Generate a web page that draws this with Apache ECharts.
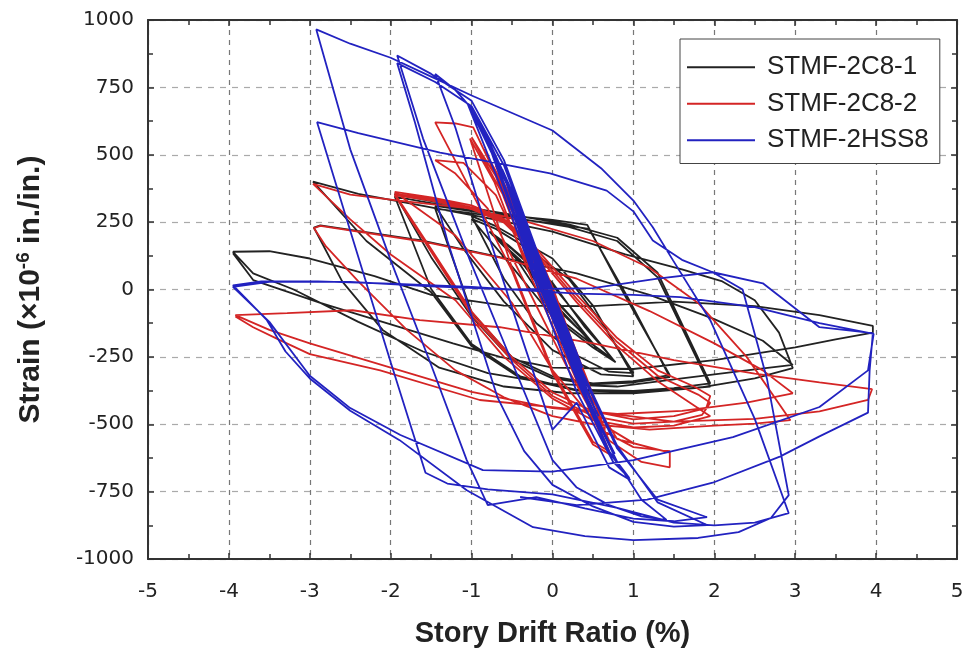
<!DOCTYPE html>
<html>
<head>
<meta charset="utf-8">
<script src="https://cdn.jsdelivr.net/npm/echarts@6/dist/echarts.min.js"></script>
<style>
  html, body { margin: 0; padding: 0; background: #fff; }
  #chart { width: 968px; height: 656px; }
</style>
</head>
<body>
<div id="chart"></div>
<script>
// Specimen names (legend order)
const seriesNames = ['STMF-2C8-1', 'STMF-2C8-2', 'STMF-2HSS8'];

// Axis tick values
const driftTicks = [-5, -4, -3, -2, -1, 0, 1, 2, 3, 4, 5];
const strainTicks = [-1000, -750, -500, -250, 0, 250, 500, 750, 1000];

// Hysteresis traces: [story drift ratio (%), strain (x10^-6 in./in.)]
const stmf2c81 = [
  [0,0],[-0.25,60],[-0.5,130],[-0.3,75],[0,-30],[0.25,-110],[0.5,-200],[0.3,-140],[0,-45],
  [-0.3,80],[-0.55,150],[-0.35,95],[0,-25],[0.3,-125],[0.55,-220],[0.35,-155],[0,-55],
  [-0.4,110],[-0.75,205],[-0.5,150],[0,15],[0.4,-130],[0.75,-260],[0.5,-205],[0,-90],
  [-0.45,115],[-0.78,215],[-0.55,165],[0,25],[0.4,-140],[0.78,-270],[0.5,-215],[0,-100],
  [-0.5,85],[-1.0,262],[-0.7,225],[-0.3,150],[0.2,40],[0.6,-120],[1.0,-310],[0.7,-305],[0.3,-245],[-0.2,-125],[-0.6,40],
  [-1.0,272],[-0.7,235],[0,115],[0.5,-60],[1.0,-322],[0.6,-315],[0,-225],
  [-0.6,-45],[-1.1,150],[-1.45,310],[-0.8,282],[0,258],[0.43,240],[0.9,-25],[1.45,-318],[1.0,-340],[0.5,-348],[0,-322],[-0.5,-252],[-1.0,-85],
  [-1.45,300],[-0.8,275],[0,245],[0.45,225],[0.95,-40],[1.45,-325],[1.0,-345],[0.5,-352],[0,-330],[-0.5,-262],[-1.0,-100],
  [-1.5,120],[-1.95,355],[-1.4,322],[-0.6,282],[0.2,242],[0.8,192],[1.3,62],[1.95,-348],[1.5,-366],[1.0,-376],[0.3,-372],[-0.4,-322],[-1.0,-202],[-1.5,2],
  [-1.95,345],[-1.4,315],[-0.6,272],[0.2,232],[0.8,180],[1.3,45],[1.95,-360],[1.5,-372],[1.0,-380],[0.3,-375],[-0.4,-328],[-1.0,-210],[-1.5,-10],
  [-2.3,180],[-2.96,400],[-2.4,355],[-1.6,310],[-0.8,265],[0,215],[0.9,130],[1.6,75],[2.1,30],[2.5,-40],[2.8,-160],[2.97,-292],
  [2.5,-330],[1.8,-365],[1.0,-385],[0.2,-385],[-0.6,-360],[-1.4,-290],[-2.1,-150],[-2.6,30],[-2.95,230],
  [-2.87,238],[-1.64,183],[-0.65,120],[0.3,60],[1.2,-20],[2.0,-110],[2.6,-190],[2.97,-280],
  [2.4,-300],[1.6,-330],[0.8,-360],[0,-350],[-0.8,-310],[-1.6,-230],[-2.4,-120],[-3.2,0],[-3.7,60],[-3.95,140],
  [-3.5,142],[-3.0,115],[-2.2,50],[-1.5,-20],[-0.6,-60],[0.5,-62],[1.5,-45],[2.5,-62],[3.3,-95],[3.96,-135],
  [3.96,-160],[3.5,-185],[3.0,-215],[2.0,-262],[1.0,-295],[0,-290],[-0.65,-250],[-1.23,-200],[-2.05,-125],[-2.87,-50],[-3.7,35],[-3.95,135]
];

const stmf2c82 = [
  [0,0],[-0.3,200],[-0.55,370],[-0.35,250],[0,10],[0.25,-200],[0.45,-350],[0.3,-260],[0,-60],
  [-0.35,220],[-0.7,460],[-0.5,330],[0,0],[0.3,-235],[0.55,-430],[0.35,-300],[0,-80],
  [-0.4,255],[-0.85,520],[-0.6,385],[0,-10],[0.35,-285],[0.65,-520],[0.45,-400],[0,-100],
  [-0.5,290],[-1.0,565],[-0.7,420],[-0.28,90],[0.2,-250],[0.7,-600],[0.5,-565],[0,-300],[-0.5,80],
  [-1.02,560],[-0.72,400],[-0.3,70],[0.2,-270],[0.7,-610],[0.5,-575],[0,-310],[-0.5,70],
  [-1.1,420],[-1.45,620],[-1.2,616],[-0.98,602],[-0.6,360],[-0.2,80],[0.3,-300],[0.7,-560],[1.1,-640],[1.45,-660],
  [1.45,-600],[1.0,-585],[0.6,-520],[0.2,-300],[-0.3,0],[-0.8,300],[-1.2,430],[-1.45,480],
  [-1.1,470],[-0.7,350],[-0.2,30],[0.3,-320],[0.8,-555],[1.45,-605],[1.0,-570],[0.5,-480],[0,-300],[-0.5,-50],
  [-1.2,200],[-1.95,362],[-1.5,342],[-1.0,312],[-0.6,262],[-0.2,152],[0.3,-20],[0.8,-180],[1.3,-300],[1.75,-360],[1.95,-395],
  [1.9,-440],[1.5,-470],[1.0,-482],[0.5,-452],[0,-382],[-0.5,-252],[-1.0,-82],[-1.5,150],
  [-1.95,355],[-1.5,336],[-1.0,305],[-0.6,255],[-0.2,140],[0.3,-35],[0.8,-195],[1.3,-320],[1.8,-390],[1.95,-420],
  [1.85,-465],[1.5,-490],[1.0,-498],[0.5,-470],[0,-395],[-0.5,-262],[-1.0,-95],[-1.5,140],
  [-1.95,350],[-1.5,330],[-1.0,298],[-0.6,248],[-0.2,130],[0.3,-48],[0.8,-210],[1.3,-340],[1.95,-470],
  [1.5,-505],[1.0,-512],[0.5,-485],[0,-405],[-0.6,-250],[-1.2,-40],
  [-2.0,130],[-2.5,260],[-2.96,392],[-2.5,352],[-1.9,330],[-1.0,300],[-0.3,250],[0.5,180],[1.2,80],[1.8,-50],[2.4,-250],[2.94,-485],
  [2.5,-498],[2.0,-505],[1.2,-520],[0.5,-500],[0,-470],[-0.6,-400],[-1.2,-300],[-1.8,-150],[-2.4,30],[-2.8,160],[-2.95,228],
  [-2.87,236],[-1.64,180],[-0.65,118],[0.3,40],[1.2,-80],[2.0,-200],[2.6,-300],[2.97,-385],
  [2.4,-420],[1.6,-450],[0.8,-462],[0,-440],[-1.0,-380],[-2.0,-290],[-3.0,-200],[-3.5,-150],[-3.92,-95],
  [-3.28,-88],[-2.47,-77],[-1.64,-114],[-0.65,-140],[0.5,-200],[1.5,-262],[2.5,-312],[3.3,-345],[3.95,-370],
  [3.9,-410],[3.3,-452],[2.5,-480],[1.5,-490],[0.34,-447],[-0.9,-410],[-2.13,-300],[-3.0,-240],[-3.37,-188],[-3.7,-140],[-3.92,-100]
];

const stmf2hss8 = [
  [0,0],[-0.2,150],[-0.4,300],[-0.25,180],[0,-20],[0.2,-170],[0.35,-280],[0.2,-160],[0,-10],
  [-0.25,190],[-0.42,310],[-0.3,210],[0,-30],[0.2,-185],[0.37,-290],[0.22,-175],[0,-20],
  [-0.3,220],[-0.6,430],[-0.45,320],[0,-40],[0.3,-290],[0.55,-460],[0.4,-350],[0,-60],
  [-0.3,200],[-0.62,445],[-0.45,330],[0,-50],[0.3,-300],[0.57,-470],[0.4,-360],[0,-70],
  [-0.4,290],[-0.8,560],[-0.6,430],[-0.2,110],[0.3,-320],[0.75,-600],[0.55,-490],[0,-80],
  [-0.4,280],[-0.82,570],[-0.62,440],[-0.2,100],[0.3,-330],[0.77,-610],[0.57,-500],[0,-90],
  [-0.5,350],[-1.0,660],[-0.8,560],[-0.24,90],[0.3,-330],[0.7,-600],[0.95,-700],[0.75,-640],[0.3,-380],[-0.2,20],
  [-0.6,350],[-1.05,690],[-0.85,590],[-0.24,71],[0.3,-335],[0.7,-605],[0.96,-707],[0.7,-660],[0.3,-420],
  [0,-520],[-0.4,-160],[-0.77,182],[-1.2,600],[-1.45,800],[-1.2,740],[-0.98,665],[-0.6,420],[-0.24,100],[0.3,-330],[0.8,-640],[1.1,-780],[1.41,-855],
  [1.1,-842],[0.7,-800],[0.3,-735],[0,-633],
  [-0.5,-270],[-1.02,108],[-1.6,560],[-1.92,868],[-1.5,800],[-1.0,700],[-0.6,480],[-0.2,150],[0.3,-260],[0.8,-580],[1.3,-790],[1.91,-874],
  [1.5,-880],[1.0,-862],[0.5,-805],[0,-725],[-0.35,-600],[-0.68,-400],[-1.3,182],[-1.7,620],[-1.92,840],
  [-1.45,770],[-1.0,680],[-0.6,460],[-0.2,140],[0.3,-270],[0.8,-590],[1.3,-780],[1.91,-845],
  [1.5,-860],[1.0,-850],[0.4,-812],[-0.2,-770],[-0.8,-800],
  [-1.06,-633],[-1.5,-280],[-2.0,108],[-2.5,520],[-2.92,965],[-2.5,912],[-2.0,860],[-1.5,790],[-1.0,720],[-0.5,655],[0,590],[0.6,450],[1.0,330],[1.24,231],[1.49,108],[1.95,-114],[2.5,-480],[2.92,-830],
  [2.5,-865],[2.0,-875],[1.5,-865],[0.8,-810],[0,-760],[-0.8,-742],[-1.3,-720],[-1.57,-680],[-2.0,-270],[-2.54,257],[-2.91,621],
  [-2.4,580],[-1.39,508],[-0.7,470],[-0.03,431],[0.67,367],[1.0,290],[1.24,182],[1.6,110],[1.98,64],[2.35,0],[2.65,-330],[2.92,-763],
  [2.7,-848],[2.3,-900],[1.8,-922],[1.0,-930],[0.4,-915],[-0.24,-882],[-1.06,-745],[-1.89,-559],[-2.5,-450],[-3.0,-330],[-3.3,-230],[-3.53,-114],[-3.8,-30],[-3.95,15],
  [-3.6,30],[-2.9,30],[-2.0,22],[-1.0,10],[0.3,-15],[1.0,-20],[1.58,-28],[2.5,-65],[3.3,-125],[3.97,-165],
  [3.9,-300],[3.3,-436],[2.23,-548],[1.0,-633],[0,-676],[-0.86,-670],[-1.88,-540],[-2.5,-440],[-3.0,-320],[-3.5,-120],[-3.95,10],
  [-3.5,28],[-2.5,28],[-1.5,12],[-0.5,0],[0.5,5],[1.3,40],[1.98,64],[2.6,23],[3.3,-140],[3.96,-162],
  [3.92,-300],[3.9,-457],[3.3,-545],[2.81,-620],[1.98,-717],[1.17,-780],[0.3,-800],[-0.4,-770]
];

const seriesData = [stmf2c81, stmf2c82, stmf2hss8];
const seriesColors = ['#222222', '#d42525', '#2222c0'];

const frameColor = '#333';

function frameAxis(extra) {
  return Object.assign({
    type: 'value',
    axisLine: { show: true, onZero: false, lineStyle: { color: frameColor, width: 2 } },
    axisTick: { show: true, inside: true, length: 6, lineStyle: { color: frameColor, width: 1.5 } },
    minorTick: { show: true, splitNumber: 2, length: 5, lineStyle: { color: frameColor, width: 1.5 } },
    axisLabel: { show: false },
    splitLine: { show: false }
  }, extra);
}

const xMin = driftTicks[0], xMax = driftTicks[driftTicks.length - 1], xStep = driftTicks[1] - driftTicks[0];
const yMin = strainTicks[0], yMax = strainTicks[strainTicks.length - 1], yStep = strainTicks[1] - strainTicks[0];
const plainNumber = v => String(v);

const chart = echarts.init(document.getElementById('chart'), null, { renderer: 'canvas' });

chart.setOption({
  animation: false,
  backgroundColor: '#fff',
  grid: { left: 148, right: 11, top: 20, bottom: 97, containLabel: false, outerBoundsMode: 'none' },
  legend: {
    data: seriesNames,
    orient: 'vertical',
    left: 680,
    top: 39,
    padding: [15, 11, 10, 7],
    icon: 'rect',
    itemWidth: 68,
    itemHeight: 2,
    itemGap: 10,
    borderColor: '#444',
    borderWidth: 1,
    backgroundColor: '#fff',
    textStyle: { fontFamily: 'Liberation Sans', fontSize: 26, lineHeight: 26.5, color: '#222', padding: [0, 0, 0, 7] }
  },
  xAxis: [
    frameAxis({
      position: 'bottom', min: xMin, max: xMax, interval: xStep,
      axisLabel: { show: true, margin: 23, fontSize: 20, fontFamily: 'DejaVu Sans', color: '#222', formatter: plainNumber },
      splitLine: { show: true, lineStyle: { color: '#777', width: 1.2, type: [5, 5] } },
      name: 'Story Drift Ratio (%)',
      nameLocation: 'middle',
      nameGap: 60,
      nameTextStyle: { fontSize: 29, fontWeight: 'bold', fontFamily: 'Liberation Sans', color: '#222' }
    }),
    frameAxis({ position: 'top', min: xMin, max: xMax, interval: xStep })
  ],
  yAxis: [
    frameAxis({
      position: 'left', min: yMin, max: yMax, interval: yStep,
      axisLabel: { show: true, margin: 14, fontSize: 20, fontFamily: 'DejaVu Sans', color: '#222', formatter: plainNumber },
      splitLine: { show: true, lineStyle: { color: '#aaa', width: 1.2, type: [6, 6] } },
      name: '{a|Strain (×10}{s|-6}{a| in./in.)}',
      nameLocation: 'middle',
      nameRotate: 90,
      nameGap: 100,
      nameTextStyle: {
        rich: {
          a: { fontSize: 30, fontWeight: 'bold', fontFamily: 'Liberation Sans', color: '#222', lineHeight: 34 },
          s: { fontSize: 19, fontWeight: 'bold', fontFamily: 'Liberation Sans', color: '#222', lineHeight: 20, verticalAlign: 'top' }
        }
      }
    }),
    frameAxis({ position: 'right', min: yMin, max: yMax, interval: yStep })
  ],
  series: seriesNames.map((name, i) => ({
    name: name,
    type: 'line',
    xAxisIndex: 0,
    yAxisIndex: 0,
    data: seriesData[i],
    symbol: 'none',
    showSymbol: false,
    smooth: false,
    clip: true,
    color: seriesColors[i],
    lineStyle: { color: seriesColors[i], width: 1.8 },
    z: 2 + i
  }))
});
</script>
</body>
</html>
